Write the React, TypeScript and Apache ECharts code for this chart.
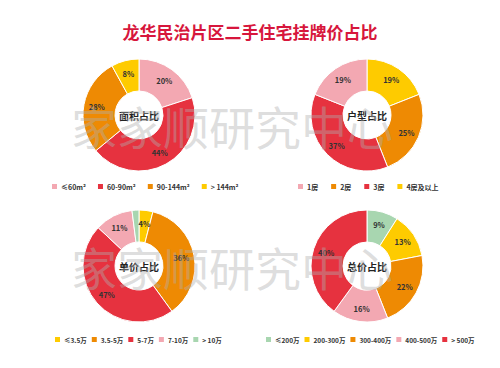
import React, { useEffect, useRef } from "react";
import * as echarts from "echarts";

const PINK = "#f3a8b2";
const RED = "#e6323f";
const ORANGE = "#ee8a03";
const YELLOW = "#fecb00";
const GREEN = "#a8d6b0";

const titleText = "龙华民治片区二手住宅挂牌价占比";
const watermark = "家家顺研究中心";

const areaNames = ["≤60m²", "60-90m²", "90-144m²", "> 144m²"];
const areaValues = [20, 44, 28, 8];
const areaColors = [PINK, RED, ORANGE, YELLOW];

const roomLegend = ["1房", "2房", "3房", "4房及以上"];
const roomNames = ["4房及以上", "2房", "3房", "1房"];
const roomValues = [19, 25, 37, 19];
const roomColors = [YELLOW, ORANGE, RED, PINK];

const unitNames = ["≤3.5万", "3.5-5万", "5-7万", "7-10万", "> 10万"];
const unitValues = [4, 36, 47, 11, 2];
const unitColors = [YELLOW, ORANGE, RED, PINK, GREEN];

const totalNames = ["≤200万", "200-300万", "300-400万", "400-500万", "> 500万"];
const totalValues = [9, 13, 22, 16, 40];
const totalColors = [GREEN, YELLOW, ORANGE, PINK, RED];

const FONT = "'Noto Sans CJK SC', 'Noto Sans', sans-serif";

function pie(names: string[], values: number[], colors: string[], cx: number, cy: number) {
  return {
    type: "pie",
    center: [cx, cy],
    radius: [24, 56],
    startAngle: 90,
    clockwise: true,
    avoidLabelOverlap: false,
    itemStyle: { borderColor: "#fff", borderWidth: 1 },
    label: {
      show: true,
      position: "inside",
      formatter: "{c}%",
      color: "#333",
      fontSize: 7.5,
      fontWeight: "bold",
      fontFamily: FONT,
    },
    labelLine: { show: false },
    emphasis: { disabled: true },
    data: names.map((n, i) => ({ name: n, value: values[i], itemStyle: { color: colors[i] } })),
  };
}

function legend(data: string[], left: number, top: number, gap: number, fs: number) {
  return {
    data,
    left,
    top,
    width: 300,
    orient: "horizontal",
    icon: "rect",
    itemWidth: 7,
    itemHeight: 7,
    itemGap: gap,
    padding: 0,
    textStyle: { fontSize: fs, fontWeight: "bold", color: "#333", fontFamily: FONT, padding: [0, 0, 0, -2] },
  };
}

function centerText(text: string, x: number, y: number) {
  return {
    type: "text",
    x,
    y,
    z: 10,
    style: {
      text,
      fill: "#222",
      font: `bold 10px ${FONT}`,
      align: "center",
      verticalAlign: "middle",
    },
  };
}

function wmText(y: number) {
  return {
    type: "text",
    x: 232,
    y,
    z: 20,
    silent: true,
    style: {
      text: watermark,
      fill: "rgba(175,175,175,0.42)",
      font: `normal 46px ${FONT}`,
      align: "center",
      verticalAlign: "middle",
    },
  };
}

export default function App() {
  const ref = useRef<HTMLDivElement>(null);
  useEffect(() => {
    if (!ref.current) return;
    const chart = echarts.init(ref.current, undefined, { renderer: "svg" });
    chart.setOption({
      animation: false,
      backgroundColor: "#fff",
      title: {
        text: titleText,
        left: "center",
        top: 18,
        textStyle: { fontSize: 17, fontWeight: "bold", color: "#d7163c", fontFamily: FONT },
      },
      legend: [
        legend(areaNames, 50, 182, 10, 7),
        legend(roomLegend, 296, 182, 11, 7),
        legend(unitNames, 53, 335, 3, 6.5),
        legend(totalNames, 264, 335, 3, 6.5),
      ],
      series: [
        pie(areaNames, areaValues, areaColors, 139, 115),
        pie(roomNames, roomValues, roomColors, 367, 115),
        pie(unitNames, unitValues, unitColors, 139, 266),
        pie(totalNames, totalValues, totalColors, 367, 266),
      ],
      graphic: [
        centerText("面积占比", 139, 115),
        centerText("户型占比", 367, 115),
        centerText("单价占比", 139, 266),
        centerText("总价占比", 367, 266),
        wmText(125),
        wmText(266),
      ],
    });
    return () => chart.dispose();
  }, []);
  return <div ref={ref} style={{ position: "fixed", left: 0, top: 0, width: 500, height: 368 }} />;
}
